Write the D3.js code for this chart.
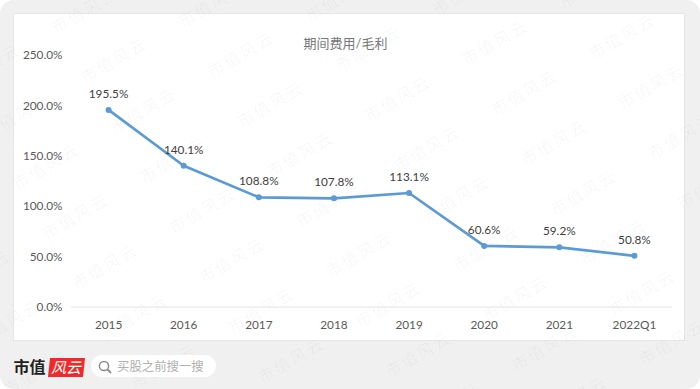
<!DOCTYPE html>
<html><head><meta charset="utf-8">
<script src="https://cdn.jsdelivr.net/npm/d3@7/dist/d3.min.js"></script>
<style>html,body{margin:0;padding:0;background:#fff}svg{display:block}text{font-family:Lato,"Noto Sans CJK SC",sans-serif}</style>
</head><body><div id="c"></div>
<script>
const categories=["2015","2016","2017","2018","2019","2020","2021","2022Q1"];
const values=[195.5,140.1,108.8,107.8,113.1,60.6,59.2,50.8];
const yTicks=[0,50,100,150,200,250];
const title="期间费用/毛利";
const watermark="市值风云";
const W=700,H=389;
const svg=d3.select("#c").append("svg").attr("width",W).attr("height",H);
svg.append("rect").attr("width",W).attr("height",H).attr("rx",14).attr("fill","#f0f0f0");
svg.append("rect").attr("x",13.5).attr("y",13.5).attr("width",671).attr("height",327).attr("fill","#fff").attr("stroke","#e6e6e6");
const x=d3.scaleBand().domain(categories).range([71,672]);
const y=d3.scaleLinear().domain([0,250]).range([307,55]);
const cx=d=>x(d)+x.bandwidth()/2;
const labelFont='Lato,sans-serif';
const fs=11.8;
// watermark lattice
const wm=svg.append("g").attr("pointer-events","none");
for(let r=-2;r<8;r++){for(let k=-3;k<8;k++){
  const px=115+k*127+r*29.5, py=62-k*6+r*50;
  if(px<-35||px>W+35||py<-20||py>H+20) continue;
  wm.append("text").attr("transform",`translate(${px},${py}) rotate(-30)`).attr("text-anchor","middle").attr("dominant-baseline","middle")
    .attr("font-size",16).attr("letter-spacing",2.4).attr("fill","#000").attr("fill-opacity",0.04).text(watermark);
}}
svg.append("text").attr("x",345.5).attr("y",47.5).attr("text-anchor","middle").attr("font-size",13).attr("fill","#777").text(title);
svg.append("line").attr("x1",71).attr("x2",672).attr("y1",y(0)).attr("y2",y(0)).attr("stroke","#e4e4e4");
const ax=svg.append("g").attr("transform","translate(0,326)").call(d3.axisBottom(x).tickSize(0).tickPadding(-5));
ax.select(".domain").remove();
ax.selectAll("text").attr("font-size",fs).attr("fill","#595959").style("font-family",labelFont);
const ay=svg.append("g").attr("transform","translate(62.5,0)").call(d3.axisLeft(y).tickValues(yTicks).tickSize(0).tickPadding(0).tickFormat(d=>d.toFixed(1)+"%"));
ay.select(".domain").remove();
ay.selectAll("text").attr("font-size",fs).attr("fill","#595959").style("font-family",labelFont);
const pts=categories.map((c,i)=>({c,v:values[i]}));
svg.append("path").datum(pts).attr("fill","none").attr("stroke","#5b9bd5").attr("stroke-width",2.7).attr("stroke-linejoin","round")
  .attr("d",d3.line().x(d=>cx(d.c)).y(d=>y(d.v)));
svg.selectAll("circle.p").data(pts).join("circle").attr("class","p").attr("cx",d=>cx(d.c)).attr("cy",d=>y(d.v)).attr("r",3).attr("fill","#5b9bd5");
svg.selectAll("text.l").data(pts).join("text").attr("class","l").attr("x",d=>cx(d.c)).attr("y",d=>y(d.v)-12)
  .attr("text-anchor","middle").attr("font-size",fs).attr("fill","#404040").text(d=>d.v.toFixed(1)+"%");
// footer
svg.append("text").attr("x",13.5).attr("y",373).attr("font-size",16).attr("font-weight",700).attr("fill","#222").text("市值");
svg.append("path").attr("d","M50 358 L85 358 L83 377 L48 377 Z").attr("fill","#ee2a2a");
svg.append("text").attr("x",51).attr("y",373).attr("font-size",15).attr("font-style","italic").attr("fill","#fff").text("风云");
svg.append("rect").attr("x",91).attr("y",355).attr("width",125).attr("height",22).attr("rx",11).attr("fill","#fff");
svg.append("circle").attr("cx",104).attr("cy",366).attr("r",4.6).attr("fill","none").attr("stroke","#8c8c8c").attr("stroke-width",1.5);
svg.append("line").attr("x1",107.5).attr("y1",369.5).attr("x2",111).attr("y2",373).attr("stroke","#8c8c8c").attr("stroke-width",1.8);
svg.append("text").attr("x",117).attr("y",371).attr("font-size",12.4).attr("fill","#b0b0b0").text("买股之前搜一搜");
</script></body></html>
